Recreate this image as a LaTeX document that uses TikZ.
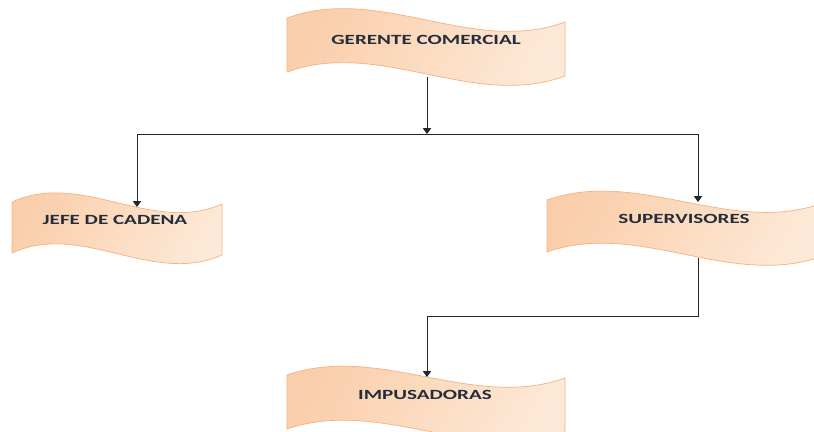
\documentclass[tikz,border=0pt]{standalone}
\usepackage{fontspec}
\usepackage{tikz}
\usetikzlibrary{arrows.meta}
\newfontfamily\boxfont[FakeStretch=1.5]{Carlito}

\definecolor{peachdark}{RGB}{250,206,170}
\definecolor{peachlight}{RGB}{253,233,216}
\definecolor{peachedge}{RGB}{242,178,130}
\definecolor{boxtext}{RGB}{38,44,60}

\tikzset{
  wave/.style={draw=peachedge, line width=0.6pt, left color=peachdark, right color=peachlight, shading angle=60},
  boxlabel/.style={font=\boxfont\bfseries\fontsize{12}{14}\selectfont, text=boxtext, inner sep=0pt},
  link/.style={draw=black!85, line width=0.8pt, -{Triangle[width=7pt,length=5pt]}},
}

\begin{document}
\begin{tikzpicture}[x=0.03cm, y=-0.03cm]
\useasboundingbox (0,0) rectangle (814,432);
%\draw [help lines, step=50] (0,0) grid (814,432);

% boxes
\path [wave] (287,18) .. controls (380,-16) and (473,56) .. (565,22) -- (565,76) .. controls (473,110) and (380,38) .. (287,72) -- cycle;
\path [wave] (12,202) .. controls (82,170) and (152,235) .. (222,204) -- (222,255) .. controls (152,286) and (82,221) .. (12,253) -- cycle;
\path [wave] (547,200) .. controls (638,168) and (729,235) .. (820,204) -- (820,257) .. controls (729,288) and (638,220) .. (547,252) -- cycle;
\path [wave] (287,375) .. controls (380,343) and (473,411) .. (565,378) -- (565,432) .. controls (473,465) and (380,397) .. (287,429) -- cycle;

% labels
\node [boxlabel] (gerente) at (426,40) {GERENTE COMERCIAL};
\node [boxlabel] (jefe) at (115,220) {JEFE DE CADENA};
\node [boxlabel] (super) at (684,219) {SUPERVISORES};
\node [boxlabel] (impu) at (425,395) {IMPUSADORAS};

% connector ends
\coordinate (g-out) at (427,77);
\coordinate (split) at (427,134);
\coordinate (j-in) at (137,207);
\coordinate (s-in) at (698,202);
\coordinate (s-out) at (698,258);
\coordinate (i-turn) at (427,316);
\coordinate (i-in) at (427,377);

\draw [link] (g-out) -- (split);
\draw [link] (split) -| (j-in);
\draw [link] (split) -| (s-in);
\draw [link] (s-out) |- (i-turn) -- (i-in);

\end{tikzpicture}
\end{document}
